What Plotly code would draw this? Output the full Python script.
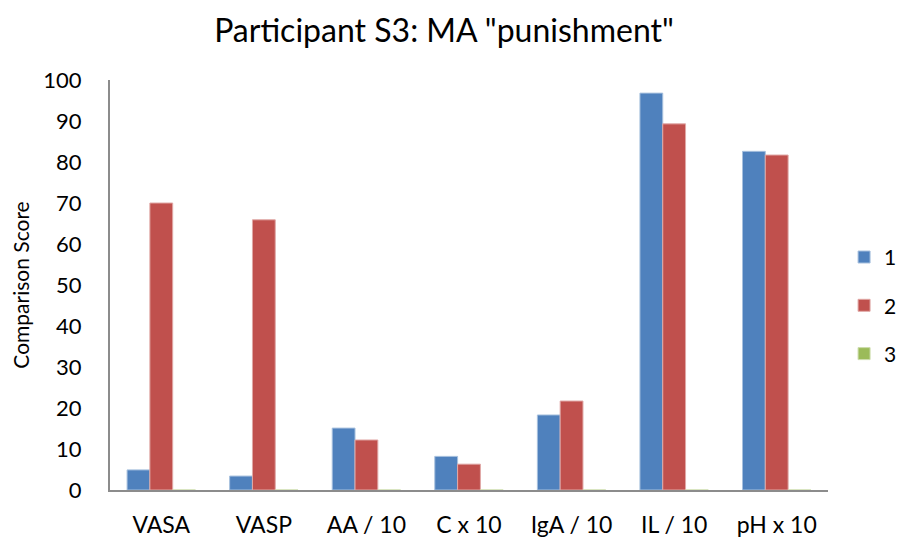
import plotly.graph_objects as go

categories = ["VASA", "VASP", "AA / 10", "C x 10", "IgA / 10", "IL / 10", "pH x 10"]
series_names = ["1", "2", "3"]
values_1 = [4.9, 3.4, 15.1, 8.2, 18.3, 96.8, 82.6]
values_2 = [70.0, 65.9, 12.2, 6.3, 21.7, 89.3, 81.7]
values_3 = [0, 0, 0, 0, 0, 0, 0]
colors = ["#4F81BD", "#C0504D", "#9BBB59"]
edge_colors = ["#A7C0DE", "#E0A8A6", "#CDDDAC"]

FONT = "Lato"

fig = go.Figure()
for name, vals, col, edge in zip(series_names, [values_1, values_2, values_3], colors, edge_colors):
    fig.add_trace(go.Bar(
        x=categories, y=vals, name=name, legendgroup=name,
        marker=dict(color=col, line=dict(color=edge, width=1)),
    ))

fig.update_layout(
    autosize=False, width=899, height=531,
    margin=dict(l=102, r=79, t=72, b=49),
    paper_bgcolor="white", plot_bgcolor="white",
    barmode="group", bargap=0.333, bargroupgap=0,
    font=dict(family=FONT, color="black"),
    title=dict(text='Participant S3: MA "punishment"', x=0.485, xanchor="center",
               xref="container", yref="container", y=0.957, yanchor="middle",
               font=dict(size=32, family=FONT, color="black")),
    legend=dict(xref="container", yref="container", x=0.93, xanchor="left",
                y=0.44, yanchor="middle",
                font=dict(size=21, family=FONT, color="black"),
                tracegroupgap=18, bgcolor="rgba(0,0,0,0)"),
    showlegend=True,
)
fig.update_xaxes(
    showline=True, linecolor="#8C8C8C", linewidth=2, showgrid=False, ticks="",
    tickfont=dict(size=23, family=FONT, color="black"), ticklabelstandoff=13,
    zeroline=False, automargin=False,
)
fig.update_yaxes(
    range=[0, 100], dtick=10, tick0=0, showline=True, linecolor="#8C8C8C", linewidth=2,
    showgrid=False, ticks="", zeroline=False, automargin=False,
    tickfont=dict(size=22, family=FONT, color="black"), ticklabelstandoff=22,
    title=dict(text="Comparison Score", standoff=16, font=dict(size=21, family=FONT, color="black")),
)

fig.write_html("out.html")
